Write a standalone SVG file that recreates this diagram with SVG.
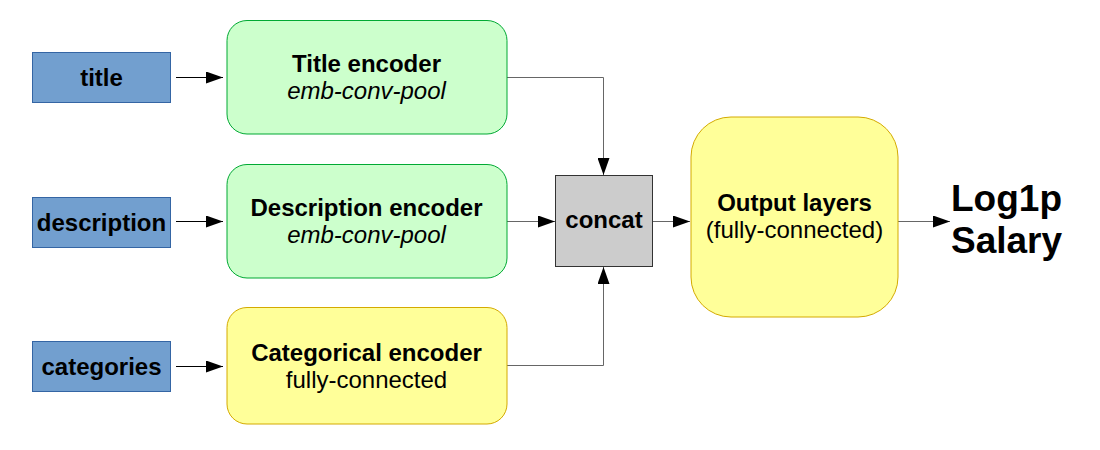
<svg xmlns="http://www.w3.org/2000/svg" width="1100" height="450" viewBox="0 0 1100 450">
<defs>
<marker id="ah" viewBox="0 0 17 12" refX="17" refY="6" markerWidth="17" markerHeight="12" markerUnits="userSpaceOnUse" orient="auto">
<path d="M0,0 L17,6 L0,12 Z" fill="#000"/>
</marker>
<style>
.inp{fill:#729fcf;stroke:#3465a4;stroke-width:1}
.grn{fill:#ccffcc;stroke:#00a933;stroke-width:1}
.yel{fill:#ffff99;stroke:#d4aa00;stroke-width:1}
.cc{fill:#cccccc;stroke:#333333;stroke-width:1}
text{font-family:"Liberation Sans",Arial,sans-serif;font-size:24px;fill:#000;text-anchor:middle}
.b{font-weight:bold}
.i{font-style:italic}
.big{font-size:37px;font-weight:bold;text-anchor:start}
.c{fill:none;stroke:#000;stroke-width:1}
.g{fill:none;stroke:#666;stroke-width:1}
</style>
</defs>
<rect width="1100" height="450" fill="#fff"/>
<g id="connectors">
<line class="c" x1="176" y1="77.5" x2="223" y2="77.5" marker-end="url(#ah)"/>
<line class="c" x1="176" y1="221.5" x2="223" y2="221.5" marker-end="url(#ah)"/>
<line class="c" x1="176" y1="366.5" x2="223" y2="366.5" marker-end="url(#ah)"/>
<polyline class="g" points="507,77.5 603.5,77.5 603.5,175" marker-end="url(#ah)"/>
<line class="g" x1="507" y1="221.5" x2="555" y2="221.5" marker-end="url(#ah)"/>
<polyline class="g" points="507,365.5 603.5,365.5 603.5,267" marker-end="url(#ah)"/>
<line class="g" x1="653" y1="221.5" x2="690" y2="221.5" marker-end="url(#ah)"/>
<line class="g" x1="898" y1="221.5" x2="950" y2="221.5" marker-end="url(#ah)"/>
</g>
<g id="title">
<rect class="inp" x="32.5" y="52.5" width="138" height="50"/>
<text class="b" x="101.5" y="85.5">title</text>
</g>
<g id="description">
<rect class="inp" x="32.5" y="197.5" width="138" height="50"/>
<text class="b" x="101.5" y="230.5">description</text>
</g>
<g id="categories">
<rect class="inp" x="32.5" y="341.5" width="138" height="50"/>
<text class="b" x="101.5" y="374.5">categories</text>
</g>
<g id="title-encoder">
<rect class="grn" x="227" y="20.5" width="280" height="113.5" rx="20" ry="20"/>
<text class="b" x="366.5" y="72">Title encoder</text>
<text class="i" x="366.5" y="99">emb-conv-pool</text>
</g>
<g id="description-encoder">
<rect class="grn" x="227" y="164.5" width="280" height="113.5" rx="20" ry="20"/>
<text class="b" x="366.5" y="216">Description encoder</text>
<text class="i" x="366.5" y="243">emb-conv-pool</text>
</g>
<g id="categorical-encoder">
<rect class="yel" x="227" y="307.5" width="280" height="116.5" rx="20" ry="20"/>
<text class="b" x="366.5" y="361">Categorical encoder</text>
<text x="366.5" y="388">fully-connected</text>
</g>
<g id="concat">
<rect class="cc" x="555.5" y="175.5" width="97" height="91"/>
<text class="b" x="604" y="228">concat</text>
</g>
<g id="output-layers">
<rect class="yel" x="691" y="117" width="207" height="200" rx="40" ry="40"/>
<text class="b" x="794.5" y="211">Output layers</text>
<text x="794.5" y="238">(fully-connected)</text>
</g>
<g id="target">
<text class="big" x="951" y="211">Log1p</text>
<text class="big" x="951" y="253">Salary</text>
</g>
</svg>
